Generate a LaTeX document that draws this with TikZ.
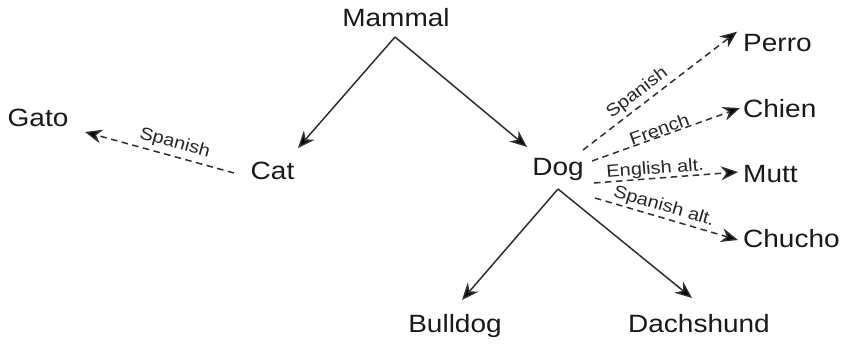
\documentclass[tikz,border=0pt]{standalone}
\usepackage{fontspec}
\setmainfont[FakeStretch=1.12]{Liberation Sans}
\newfontfamily\labfont[FakeStretch=1.14]{Liberation Sans}
\usetikzlibrary{arrows.meta}
\begin{document}
\begin{tikzpicture}[x=1pt,y=-1pt,
  word/.style={inner sep=0pt, font=\fontsize{25}{30}\selectfont, text=black!90},
  link/.style={draw=black!82, line width=1.5pt, -{Stealth[length=17pt,width=14pt,inset=5.5pt,fill=black]}},
  trans/.style={link, dash pattern=on 6.5pt off 4.5pt},
  lab/.style={font=\labfont\fontsize{17.5}{19}\selectfont, inner sep=0pt, sloped, text=black!85}
]
\useasboundingbox (0,0) rectangle (846,344);
\node[word, anchor=base] (mammal) at (396,27) {Mammal};
\node[word, anchor=base] (gato) at (38,127) {Gato};
\node[word, anchor=base] (cat) at (272.5,180) {Cat};
\node[word, anchor=base] (dog) at (558,176) {Dog};
\node[word, anchor=base west] (perro) at (743,51.7) {Perro};
\node[word, anchor=base west] (chien) at (743,118) {Chien};
\node[word, anchor=base west] (mutt) at (743,183) {Mutt};
\node[word, anchor=base west] (chucho) at (743,248) {Chucho};
\node[word, anchor=base] (bulldog) at (455,333) {Bulldog};
\node[word, anchor=base] (dachshund) at (699,333) {Dachshund};

\draw[link] ([shift={(-1,10)}]mammal.base) -- ([shift={(25.5,-32)}]cat.base);
\draw[link] ([shift={(-1,10)}]mammal.base) -- ([shift={(-31,-29)}]dog.base);
\draw[trans] ([shift={(-38.5,-7)}]cat.base) -- node[lab, pos=0.42, above=4pt] {Spanish} ([shift={(47,5)}]gato.base);
\draw[link] ([shift={(0,13)}]dog.base) -- ([shift={(7,-33)}]bulldog.base);
\draw[link] ([shift={(0,13)}]dog.base) -- ([shift={(-7,-35)}]dachshund.base);
\draw[trans] ([shift={(25,-26)}]dog.base) -- node[lab, pos=0.4, above=3pt] {Spanish} ([shift={(-6,-20)}]perro.base west);
\draw[trans] ([shift={(34,-15)}]dog.base) -- node[lab, pos=0.47, above=0pt] {French} ([shift={(-3,-10)}]chien.base west);
\draw[trans] ([shift={(36,7)}]dog.base) -- node[lab, pos=0.43, above=0pt] {English alt.} ([shift={(-5,-11)}]mutt.base west);
\draw[trans] ([shift={(37,22)}]dog.base) -- node[lab, pos=0.46, above=2pt] {Spanish alt.} ([shift={(-5,-8)}]chucho.base west);
\end{tikzpicture}
\end{document}
